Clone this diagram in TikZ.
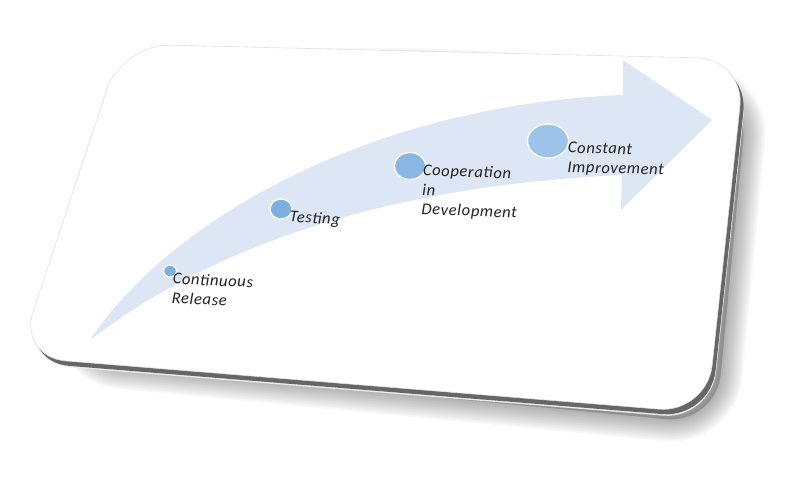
\documentclass[tikz,border=0pt]{standalone}
\usepackage{fontspec}
\setmainfont{Carlito}
\usetikzlibrary{calc,positioning,shapes.geometric}
\definecolor{Ink}{HTML}{222222}
\definecolor{Band}{HTML}{DCE6F5}
\definecolor{DotA}{HTML}{7DB0E1}
\definecolor{DotB}{HTML}{8AB6E3}
\definecolor{DotC}{HTML}{9DC3E8}
\definecolor{Bevel}{HTML}{666666}
\newcommand\lblfont{\fontsize{16.5}{19.5}\selectfont\itshape\addfontfeature{LetterSpace=4}}
% card outline, started half way along the top edge
\newcommand\cardpath{(433,51.5) -- (745,59) -- (707,413) -- (18,357) -- (122,44) -- cycle}
\newcommand\shadowpath{(440,70) -- (748,90) -- (716,424) -- (70,362) -- (140,70) -- cycle}

\begin{document}
\begin{tikzpicture}[x=1pt,y=-1pt,
  milestone/.style={ellipse,draw=white,line width=1.3pt,inner sep=0pt},
  phase/.style={font=\lblfont,text=Ink,align=left,anchor=north west,inner sep=0pt},
  soft/.style={draw=black,opacity=0.03,line width=#1,line join=round,rounded corners=50pt}
]
\useasboundingbox (0,0) rectangle (795,491);

% Soft drop shadow.
\fill[black,opacity=0.2,rounded corners=50pt] \shadowpath;
\foreach \w in {44,40,...,4}
  \draw[soft=\w pt] \shadowpath;

% Bevelled card.
\fill[black!8,rounded corners=48pt,shift={(4,6.5)}] \cardpath;
\fill[Bevel,rounded corners=48pt,shift={(3.5,5)}] \cardpath;
\fill[white,draw=black!12,line width=0.6pt,rounded corners=48pt] \cardpath;

% Curved arrow.
\fill[Band] (90,340) .. controls (170,220) and (370,105) .. (623,95)
  -- (623,60) -- (712,120) -- (621,210) -- (622,175)
  .. controls (400,185) and (220,240) .. (90,340) -- cycle;

% Milestones along the arrow.
\node[milestone,fill=DotA,minimum width=13pt,minimum height=12pt] (release) at (170,271) {};
\node[milestone,fill=DotA,minimum width=22pt,minimum height=20pt] (testing) at (281,209) {};
\node[milestone,fill=DotB,minimum width=31pt,minimum height=27pt] (coop) at (410,166) {};
\node[milestone,fill=DotC,minimum width=41pt,minimum height=34pt] (improve) at (548,141) {};

\node[phase,rotate=-3] (releaselbl) at (173,272) {Continuous\\Release};
\node[phase,rotate=-4] (testinglbl) at (290,210) {Testing};
\node[phase,rotate=-2] (cooplbl) at (423,164) {Cooperation\\in\\Development};
\node[phase,rotate=-1.5] (improvelbl) at (568,142) {Constant\\Improvement};
\end{tikzpicture}
\end{document}
